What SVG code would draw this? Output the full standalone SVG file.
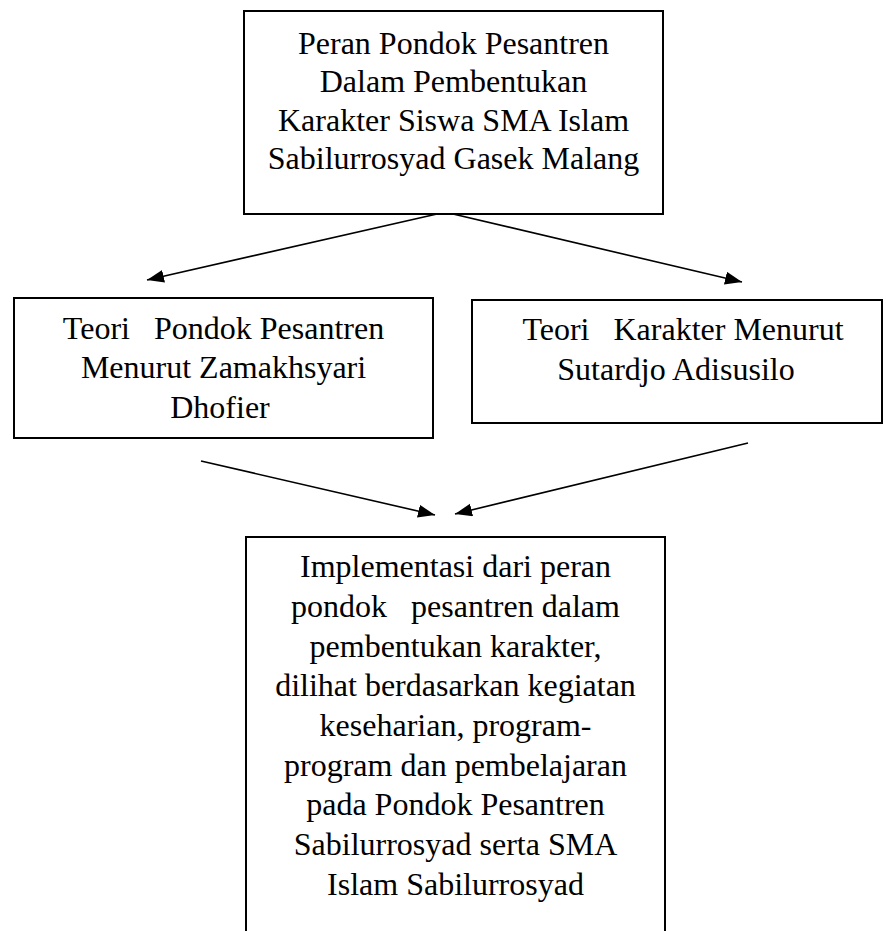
<svg xmlns="http://www.w3.org/2000/svg" width="886" height="931" viewBox="0 0 886 931">
<style>
.box{fill:#fff;stroke:#000;stroke-width:2}
.t{font-family:"Liberation Serif","Times New Roman",serif;font-size:32px;fill:#000;text-anchor:middle;white-space:pre}
.c{stroke:#000;stroke-width:1.6;fill:none;marker-end:url(#ah)}
</style>
<defs>
<marker id="ah" markerUnits="userSpaceOnUse" markerWidth="18" markerHeight="14" refX="17" refY="6.5" orient="auto">
<path d="M0,0 L17,6.5 L0,13 z" fill="#000"/>
</marker>
</defs>
<rect width="886" height="931" fill="#fff"/>
<g id="connectors">
<line class="c" x1="437" y1="214" x2="147" y2="280"/>
<line class="c" x1="453" y1="214" x2="742" y2="282"/>
<line class="c" x1="201" y1="461" x2="435" y2="515"/>
<line class="c" x1="748" y1="443" x2="455" y2="514"/>
</g>
<g id="node-top">
<rect class="box" x="244" y="11" width="419" height="203"/>
<text class="t" x="453.5" y="54">Peran Pondok Pesantren</text>
<text class="t" x="453.5" y="92">Dalam Pembentukan</text>
<text class="t" x="453.5" y="131">Karakter Siswa SMA Islam</text>
<text class="t" x="453.5" y="169">Sabilurrosyad Gasek Malang</text>
</g>
<g id="node-left">
<rect class="box" x="14" y="298" width="419" height="140"/>
<text class="t" x="223.5" y="339">Teori   Pondok Pesantren</text>
<text class="t" x="223.5" y="378">Menurut Zamakhsyari</text>
<text class="t" x="220" y="418">Dhofier</text>
</g>
<g id="node-right">
<rect class="box" x="472" y="300" width="410" height="123"/>
<text class="t" x="683" y="340">Teori   Karakter Menurut</text>
<text class="t" x="676" y="380">Sutardjo Adisusilo</text>
</g>
<g id="node-bottom">
<rect class="box" x="246" y="537" width="419" height="410"/>
<text class="t" x="455.5" y="577">Implementasi dari peran</text>
<text class="t" x="455.5" y="617">pondok   pesantren dalam</text>
<text class="t" x="455.5" y="657">pembentukan karakter,</text>
<text class="t" x="455.5" y="696">dilihat berdasarkan kegiatan</text>
<text class="t" x="455.5" y="736">keseharian, program-</text>
<text class="t" x="455.5" y="776">program dan pembelajaran</text>
<text class="t" x="455.5" y="815">pada Pondok Pesantren</text>
<text class="t" x="455.5" y="855">Sabilurrosyad serta SMA</text>
<text class="t" x="455.5" y="895">Islam Sabilurrosyad</text>
</g>
</svg>
